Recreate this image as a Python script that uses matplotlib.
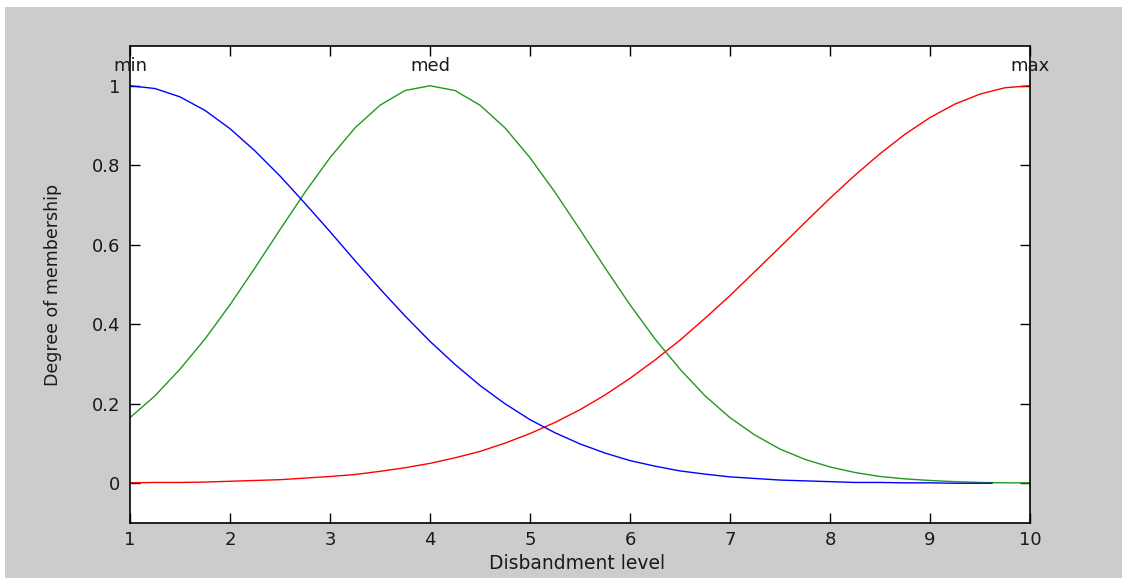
import matplotlib
matplotlib.use("Agg")
import matplotlib.pyplot as plt
from matplotlib.patches import Rectangle

# valeurs (pas de 0.25)
x_vals = [1.00, 1.25, 1.50, 1.75, 2.00, 2.25, 2.50, 2.75, 3.00, 3.25, 3.50, 3.75,
          4.00, 4.25, 4.50, 4.75, 5.00, 5.25, 5.50, 5.75, 6.00, 6.25, 6.50, 6.75,
          7.00, 7.25, 7.50, 7.75, 8.00, 8.25, 8.50, 8.75, 9.00, 9.25, 9.50, 9.75, 10.00]

mf_min = [1.000, 0.993, 0.972, 0.938, 0.892, 0.836, 0.773, 0.704, 0.633, 0.560, 0.489, 0.421,
          0.357, 0.299, 0.246, 0.200, 0.160, 0.127, 0.099, 0.076, 0.057, 0.043, 0.031, 0.023,
          0.016, 0.012, 0.008, 0.006, 0.004, 0.002, 0.002, 0.001, 0.001, 0.000, 0.000]
mf_med = [0.165, 0.220, 0.287, 0.363, 0.449, 0.542, 0.638, 0.732, 0.819, 0.894, 0.951, 0.988,
          1.000, 0.988, 0.951, 0.894, 0.819, 0.732, 0.638, 0.542, 0.449, 0.363, 0.287, 0.220,
          0.165, 0.121, 0.086, 0.060, 0.041, 0.027, 0.017, 0.011, 0.007, 0.004, 0.002, 0.001, 0.001]
mf_max = [0.001, 0.002, 0.002, 0.003, 0.005, 0.007, 0.009, 0.013, 0.017, 0.022, 0.030, 0.039,
          0.050, 0.064, 0.080, 0.101, 0.125, 0.153, 0.185, 0.222, 0.264, 0.310, 0.360, 0.415,
          0.472, 0.533, 0.594, 0.656, 0.717, 0.775, 0.829, 0.878, 0.920, 0.954, 0.979, 0.995, 1.000]

mf_names = ["min", "med", "max"]
mf_peaks = [1, 4, 10]

x_ticks = [1, 2, 3, 4, 5, 6, 7, 8, 9, 10]
y_ticks = [0, 0.2, 0.4, 0.6, 0.8, 1]
y_tick_labels = ["0", "0.2", "0.4", "0.6", "0.8", "1"]

plt.rcParams['font.family'] = ['DejaVu Sans']

fig = plt.figure(figsize=(11.22, 5.78), dpi=100, facecolor="white")
# fond gris facon matlab
fig.patches.append(Rectangle((5 / 1122, 0), 1 - 5 / 1122, 1 - 7 / 578,
                             transform=fig.transFigure, facecolor="#cccccc",
                             edgecolor="none", zorder=-10))

ax = fig.add_axes([130 / 1122, 55 / 578, 900 / 1122, 477 / 578])
ax.set_facecolor("white")

ax.plot(x_vals[:len(mf_max)], mf_max, color="#ff0000", lw=1.0)
ax.plot(x_vals[:len(mf_med)], mf_med, color="#1f9a1f", lw=1.0)
ax.plot(x_vals[:len(mf_min)] + [9.62], mf_min + [0.0], color="#0000ff", lw=1.0)

for name, peak in zip(mf_names, mf_peaks):
    ax.text(peak, 1.05, name, ha="center", va="center", fontsize=13,
            color="#1a1a1a", clip_on=False)

ax.set_xlim(1, 10)
ax.set_ylim(-0.1, 1.1)
ax.set_xticks(x_ticks)
ax.set_yticks(y_ticks)
ax.set_yticklabels(y_tick_labels)
ax.tick_params(direction="in", length=7, width=1, top=True, right=True,
               labelsize=13, colors="black", labelcolor="#1a1a1a")
ax.tick_params(axis="x", pad=6)
ax.tick_params(axis="y", pad=7)
for sp in ax.spines.values():
    sp.set_linewidth(1.2)
    sp.set_color("black")

ax.set_xlabel("Disbandment level", fontsize=13.5, color="#1a1a1a")
ax.xaxis.set_label_coords(0.497, -0.064)
ax.set_ylabel("Degree of membership", fontsize=12.5, color="#1a1a1a")
ax.yaxis.set_label_coords(-0.075, 0.5)

fig.savefig("out.png", dpi=100, facecolor=fig.get_facecolor())
